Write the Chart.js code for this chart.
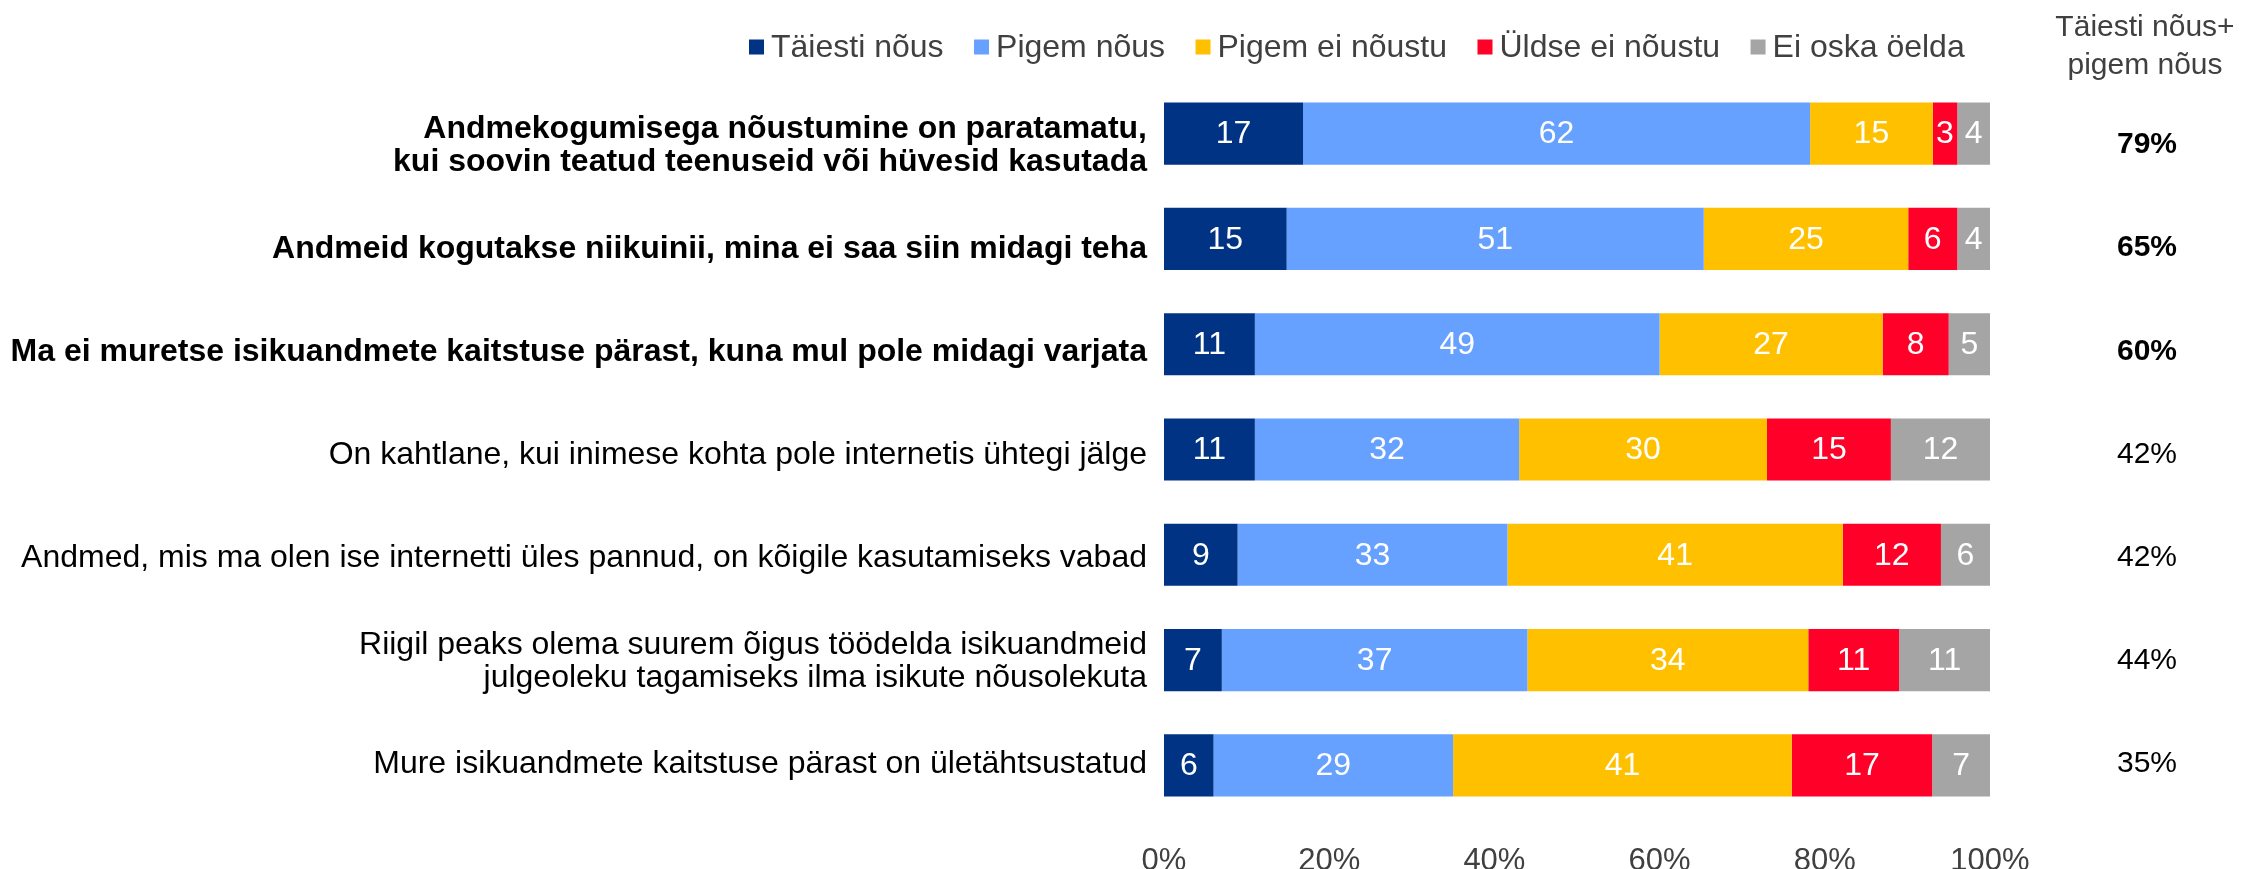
<!DOCTYPE html>
<html>
<head>
<meta charset="utf-8">
<script src="https://cdn.jsdelivr.net/npm/chart.js@4.4.0/dist/chart.umd.min.js"></script>
<style>
  html, body { margin: 0; padding: 0; background: #fff; }
</style>
</head>
<body>
<canvas id="myChart" width="2249" height="869"></canvas>
<script>
const statements = [
  ["Andmekogumisega nõustumine on paratamatu,", "kui soovin teatud teenuseid või hüvesid kasutada"],
  "Andmeid kogutakse niikuinii, mina ei saa siin midagi teha",
  "Ma ei muretse isikuandmete kaitstuse pärast, kuna mul pole midagi varjata",
  "On kahtlane, kui inimese kohta pole internetis ühtegi jälge",
  "Andmed, mis ma olen ise internetti üles pannud, on kõigile kasutamiseks vabad",
  ["Riigil peaks olema suurem õigus töödelda isikuandmeid", "julgeoleku tagamiseks ilma isikute nõusolekuta"],
  "Mure isikuandmete kaitstuse pärast on ületähtsustatud",
];
const boldRows = 3; // first three statements are set in bold

const seriesNames = ["Täiesti nõus", "Pigem nõus", "Pigem ei nõustu", "Üldse ei nõustu", "Ei oska öelda"];
const fullyAgree = [17, 15, 11, 11, 9, 7, 6];
const ratherAgree = [62, 51, 49, 32, 33, 37, 29];
const ratherDisagree = [15, 25, 27, 30, 41, 34, 41];
const fullyDisagree = [3, 6, 8, 15, 12, 11, 17];
const cantSay = [4, 4, 5, 12, 6, 11, 7];
const agreeTotal = [79, 65, 60, 42, 42, 44, 35];
const xTicks = [0, 20, 40, 60, 80, 100];

const colors = ["#003384", "#66A1FF", "#FFC000", "#FF0029", "#A5A5A5"];
const FONT = '"Liberation Sans", Arial, sans-serif';
const GREY_TEXT = "#404040";

const series = [fullyAgree, ratherAgree, ratherDisagree, fullyDisagree, cantSay];
// rounded answers don't always add up to 100, so every row is scaled to its own total
const rowTotals = statements.map((_, i) => series.reduce((s, arr) => s + arr[i], 0));

// the text rows sit on a slightly tighter grid than the bars
const textShift = (i) => 12.5 - 2.2 * i;

Chart.defaults.font.family = FONT;

// white numbers in the middle of each segment
const segmentLabels = {
  id: "segmentLabels",
  afterDatasetsDraw(chart) {
    const ctx = chart.ctx;
    ctx.save();
    ctx.font = "32px " + FONT;
    ctx.fillStyle = "#fff";
    ctx.textAlign = "center";
    ctx.textBaseline = "middle";
    chart.data.datasets.forEach((ds, i) => {
      chart.getDatasetMeta(i).data.forEach((bar, j) => {
        const p = bar.getCenterPoint();
        ctx.fillText(String(ds.raw[j]), p.x, p.y + 1);
      });
    });
    ctx.restore();
  },
};

// statement labels, legend row on top and the "agree total" column on the right
const extras = {
  id: "extras",
  afterDraw(chart) {
    const ctx = chart.ctx;
    const yScale = chart.scales.y;
    const area = chart.chartArea;
    ctx.save();
    ctx.textBaseline = "middle";

    ctx.textAlign = "right";
    ctx.fillStyle = "#000";
    chart.data.labels.forEach((lab, i) => {
      const lines = Array.isArray(lab) ? lab : [lab];
      ctx.font = (i < boldRows ? "bold " : "") + "32px " + FONT;
      const yc = yScale.getPixelForValue(i) + textShift(i);
      lines.forEach((ln, k) => {
        ctx.fillText(ln, area.left - 17, yc + (k - (lines.length - 1) / 2) * 33);
      });
    });

    ctx.font = "32px " + FONT;
    ctx.textAlign = "left";
    let x = 749;
    const ly = 47;
    chart.data.datasets.forEach((ds) => {
      ctx.fillStyle = ds.backgroundColor;
      ctx.fillRect(x, ly - 7.5, 15, 15);
      x += 15 + 7;
      ctx.fillStyle = GREY_TEXT;
      ctx.fillText(ds.label, x, ly + 1);
      x += ctx.measureText(ds.label).width + 30.5;
    });

    const colX = 2145;
    ctx.textAlign = "center";
    ctx.font = "30px " + FONT;
    ctx.fillStyle = GREY_TEXT;
    ctx.fillText("Täiesti nõus+", colX, 28);
    ctx.fillText("pigem nõus", colX, 66);

    ctx.fillStyle = "#000";
    agreeTotal.forEach((v, i) => {
      ctx.font = (i < boldRows ? "bold " : "") + "30px " + FONT;
      const y = yScale.getPixelForValue(i) + textShift(i) - 1;
      ctx.fillText(v + "%", colX + 2, y);
    });
    ctx.restore();
  },
};

const ctx = document.getElementById("myChart").getContext("2d");
const myChart = new Chart(ctx, {
  type: "bar",
  data: {
    labels: statements,
    datasets: series.map((arr, k) => ({
      label: seriesNames[k],
      raw: arr,
      data: arr.map((v, i) => (v / rowTotals[i]) * 100),
      backgroundColor: colors[k],
      borderWidth: 0,
      categoryPercentage: 1,
      barPercentage: 0.59,
    })),
  },
  plugins: [segmentLabels, extras],
  options: {
    indexAxis: "y",
    responsive: false,
    animation: false,
    devicePixelRatio: 1,
    layout: { padding: { top: 81, right: 259, left: 0, bottom: 0 } },
    scales: {
      x: {
        stacked: true,
        min: 0,
        max: 100,
        grid: { display: false, drawTicks: false },
        border: { display: false },
        afterBuildTicks: (s) => {
          s.ticks = xTicks.map((v) => ({ value: v }));
        },
        afterFit: (s) => {
          s.height = 51;
        },
        ticks: {
          color: GREY_TEXT,
          padding: 25,
          maxRotation: 0,
          autoSkip: false,
          font: { size: 31 },
          callback: (v) => v + "%",
        },
      },
      y: {
        stacked: true,
        grid: { display: false, drawTicks: false },
        border: { display: false },
        afterFit: (s) => {
          s.width = 1164;
        },
        ticks: { display: false },
      },
    },
    plugins: {
      legend: { display: false },
      tooltip: { enabled: false },
    },
  },
});
</script>
</body>
</html>
